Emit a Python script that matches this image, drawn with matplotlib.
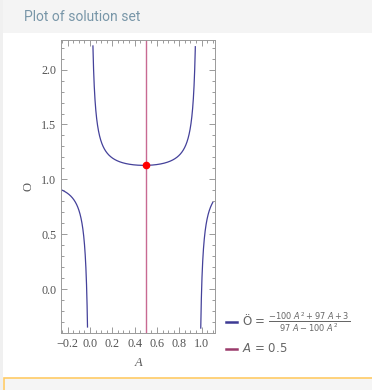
import numpy as np
import matplotlib
matplotlib.use("Agg")
import matplotlib.pyplot as plt
from matplotlib.lines import Line2D
from matplotlib.patches import Rectangle
from matplotlib.ticker import MultipleLocator

# coefficients: O = (-100A^2 + 97A + 3) / (97A - 100A^2)
num_coef = [-100, 97, 3]
den_coef = [-100, 97, 0]
a_range = [-0.25, 1.1]
clip_y = [-0.36, 2.22]
a_line = 0.5
x_ticks = [-0.2, 0.0, 0.2, 0.4, 0.6, 0.8, 1.0]
y_ticks = [0.0, 0.5, 1.0, 1.5, 2.0]

A = np.linspace(a_range[0], a_range[1], 4000)
O = np.polyval(num_coef, A) / np.polyval(den_coef, A)
O[(O < clip_y[0]) | (O > clip_y[1])] = np.nan
o_point = np.polyval(num_coef, a_line) / np.polyval(den_coef, a_line)

fig = plt.figure(figsize=(3.72, 3.90), dpi=100)
fig.patch.set_facecolor("white")

# page decoration: header band, left border, bottom box
fig.add_artist(Rectangle((0, 1 - 33 / 390), 1, 33 / 390, transform=fig.transFigure,
                         facecolor="#f4f4f4", edgecolor="none"))
fig.add_artist(Rectangle((0, 0), 3 / 372, 1, transform=fig.transFigure,
                         facecolor="#f0f0f0", edgecolor="none"))
fig.add_artist(Rectangle((4 / 372, -0.05), 1, 0.05 + 12 / 390, transform=fig.transFigure,
                         facecolor="#f5f5f5", edgecolor="#ffcb66", linewidth=1.2))
fig.text(24 / 372, 1 - 17 / 390, "Plot of solution set", color="#7896a8",
         fontsize=10, family="Roboto", va="center")

ax = fig.add_axes([61 / 372, 1 - 333 / 390, 154 / 372, 293 / 390])
ax.plot(A, O, color="#44419a", lw=0.9)
ax.axvline(a_line, color="#c86a92", lw=1.0)
ax.plot([a_line], [o_point], "o", color="#ff0000", ms=4.5)

ax.set_xlim(-0.26, 1.12)
ax.set_ylim(-0.40, 2.27)
ax.set_xticks(x_ticks)
ax.set_yticks(y_ticks)
ax.xaxis.set_minor_locator(MultipleLocator(0.05))
ax.yaxis.set_minor_locator(MultipleLocator(0.1))
ax.tick_params(which="both", direction="in", top=True, right=True, color="#8a8a8a",
               labelcolor="#555555", labelsize=8.7, width=0.6)
ax.tick_params(which="major", length=4)
ax.tick_params(which="minor", length=2)
ax.set_xticklabels(["\u22120.2", "0.0", "0.2", "0.4", "0.6", "0.8", "1.0"],
                   family="Liberation Serif")
ax.set_yticklabels(["0.0", "0.5", "1.0", "1.5", "2.0"], family="Liberation Serif")
for s in ax.spines.values():
    s.set_color("#9a9a9a")
    s.set_linewidth(0.7)
ax.set_xlabel("A", family="Liberation Serif", style="italic", color="#555555",
              fontsize=9, labelpad=5)
ax.set_ylabel("O", family="Liberation Serif", color="#555555", fontsize=9, labelpad=5)

# legend drawn beside the plot
plt.rcParams["mathtext.fontset"] = "dejavusans"
fig.add_artist(Line2D([226 / 372, 237 / 372], [1 - 322 / 390] * 2,
                      color="#3d3a94", lw=1.8, transform=fig.transFigure))
fig.text(242 / 372, 1 - 322 / 390,
         r"Ö = $\frac{-100\ A^2+97\ A+3}{97\ A-100\ A^2}$",
         color="#666666", fontsize=8.5, va="center")
fig.add_artist(Line2D([226 / 372, 237 / 372], [1 - 349 / 390] * 2,
                      color="#9b3b6b", lw=1.8, transform=fig.transFigure))
fig.text(242 / 372, 1 - 349 / 390, "$A$ = 0.5", color="#666666", fontsize=8.5,
         va="center")

fig.savefig("out.png", dpi=100)
